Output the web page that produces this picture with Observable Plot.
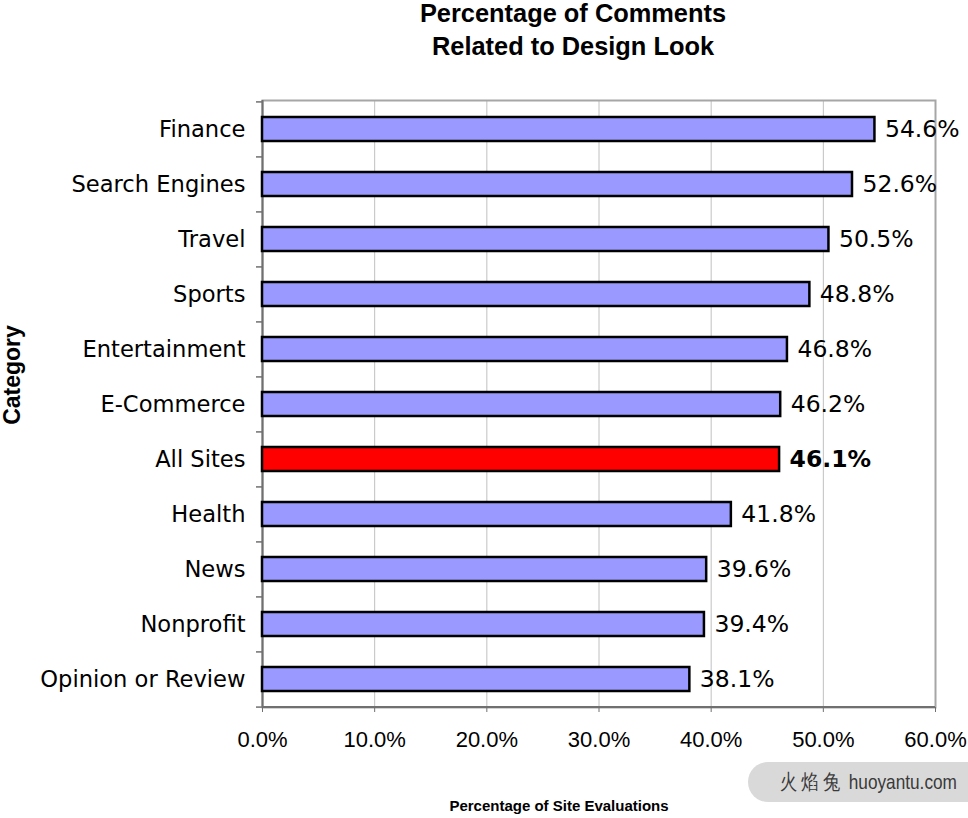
<!DOCTYPE html>
<html>
<head>
<meta charset="utf-8">
<script src="https://cdn.jsdelivr.net/npm/d3@7"></script>
<script src="https://cdn.jsdelivr.net/npm/@observablehq/plot@0.6"></script>
<style>
  html, body { margin: 0; padding: 0; background: #fff; }
  #wrap { position: relative; width: 968px; height: 818px; overflow: hidden; }
  #chart { position: absolute; left: 0; top: 0; }
  .title { position: absolute; left: 573px; transform: translateX(-50%); font-family: "Liberation Sans", Arial, sans-serif; font-weight: bold; font-size: 25.4px; white-space: nowrap; color: #000; }
  .xlabel { position: absolute; left: 559px; top: 797px; transform: translateX(-50%); font-family: "Liberation Sans", Arial, sans-serif; font-weight: bold; font-size: 15px; white-space: nowrap; }
  .ylabel { position: absolute; left: 12px; top: 375px; transform: translate(-50%, -50%) rotate(-90deg); font-family: "Liberation Sans", Arial, sans-serif; font-weight: bold; font-size: 23px; white-space: nowrap; line-height: 26px; }
  .wm { position: absolute; left: 748px; top: 762px; width: 260px; height: 40px; border-radius: 20px; background: #d9d9d9; }
  .wmtext { position: absolute; left: 780px; top: 770px; font-family: "Liberation Sans", "Roboto", sans-serif; font-size: 21px; color: #3a3a3a; white-space: nowrap; line-height: 24px; transform: scaleX(0.82); transform-origin: left center; }
  .wmtext .cn { letter-spacing: 5px; }
</style>
</head>
<body>
<div id="wrap">
  <div id="chart"></div>
  <div class="title" style="top:-1px;">Percentage of Comments</div>
  <div class="title" style="top:32px;">Related to Design Look</div>
  <div class="ylabel">Category</div>
  <div class="xlabel">Percentage of Site Evaluations</div>
  <div class="wm"></div>
  <div class="wmtext"><span class="cn">火焰兔</span> huoyantu.com</div>
</div>
<script>
const categories = ["Finance", "Search Engines", "Travel", "Sports", "Entertainment", "E-Commerce", "All Sites", "Health", "News", "Nonprofit", "Opinion or Review"];
const values = [54.6, 52.6, 50.5, 48.8, 46.8, 46.2, 46.1, 41.8, 39.6, 39.4, 38.1];
const xTicks = [0, 10, 20, 30, 40, 50, 60];
const highlight = "All Sites";

const data = categories.map((c, i) => ({category: c, value: values[i]}));

const W = 968, H = 818;
const mL = 262, mR = 33, mT = 100, mB = 111;
const step = (H - mT - mB) / categories.length;
const fmt = d => d.toFixed(1) + "%";
const labelFont = "DejaVu Sans, Verdana, sans-serif";

const chart = Plot.plot({
  width: W,
  height: H,
  marginLeft: mL,
  marginRight: mR,
  marginTop: mT,
  marginBottom: mB,
  style: {fontFamily: labelFont, fontSize: "22px", color: "#000", background: "#fff"},
  x: {domain: [0, 60], axis: null},
  y: {domain: categories, paddingInner: 0.57, paddingOuter: 0.285, axis: null},
  marks: [
    Plot.gridX(xTicks, {stroke: "#c0c0c0", strokeOpacity: 1, strokeWidth: 1}),
    Plot.frame({stroke: "#a6a6a6", strokeWidth: 2}),
    Plot.ruleX([0], {stroke: "#707070", strokeWidth: 2}),
    Plot.ruleY([categories[categories.length - 1]], {x1: 0, x2: 60, dy: step / 2, stroke: "#707070", strokeWidth: 2}),
    Plot.axisY({tickSize: 6, text: null, label: null, dy: -step / 2, stroke: "#707070", strokeWidth: 1.5}),
    Plot.axisY([categories[categories.length - 1]], {tickSize: 6, text: null, label: null, dy: step / 2, stroke: "#707070", strokeWidth: 1.5}),
    Plot.axisY({tickSize: 0, tickPadding: 17, label: null, fontSize: 22.6, fontFamily: labelFont, fill: "#000"}),
    Plot.axisX(xTicks, {tickSize: 5, tickPadding: 19, label: null, tickFormat: fmt, fontSize: 22, fontFamily: "Liberation Sans, Arial, sans-serif", stroke: "#707070", fill: "#000"}),
    Plot.barX(data.filter(d => d.category !== highlight), {x: "value", y: "category", fill: "#9999ff", stroke: "#000", strokeWidth: 2.5}),
    Plot.barX(data.filter(d => d.category === highlight), {x: "value", y: "category", fill: "#ff0000", stroke: "#000", strokeWidth: 2.5}),
    Plot.text(data.filter(d => d.category !== highlight), {x: "value", y: "category", text: d => fmt(d.value), textAnchor: "start", dx: 10, fontSize: 23.5, fill: "#000"}),
    Plot.text(data.filter(d => d.category === highlight), {x: "value", y: "category", text: d => fmt(d.value), textAnchor: "start", dx: 10, fontSize: 23.5, fontWeight: "bold", fill: "#000"})
  ]
});
document.getElementById("chart").appendChild(chart);
</script>
</body>
</html>
